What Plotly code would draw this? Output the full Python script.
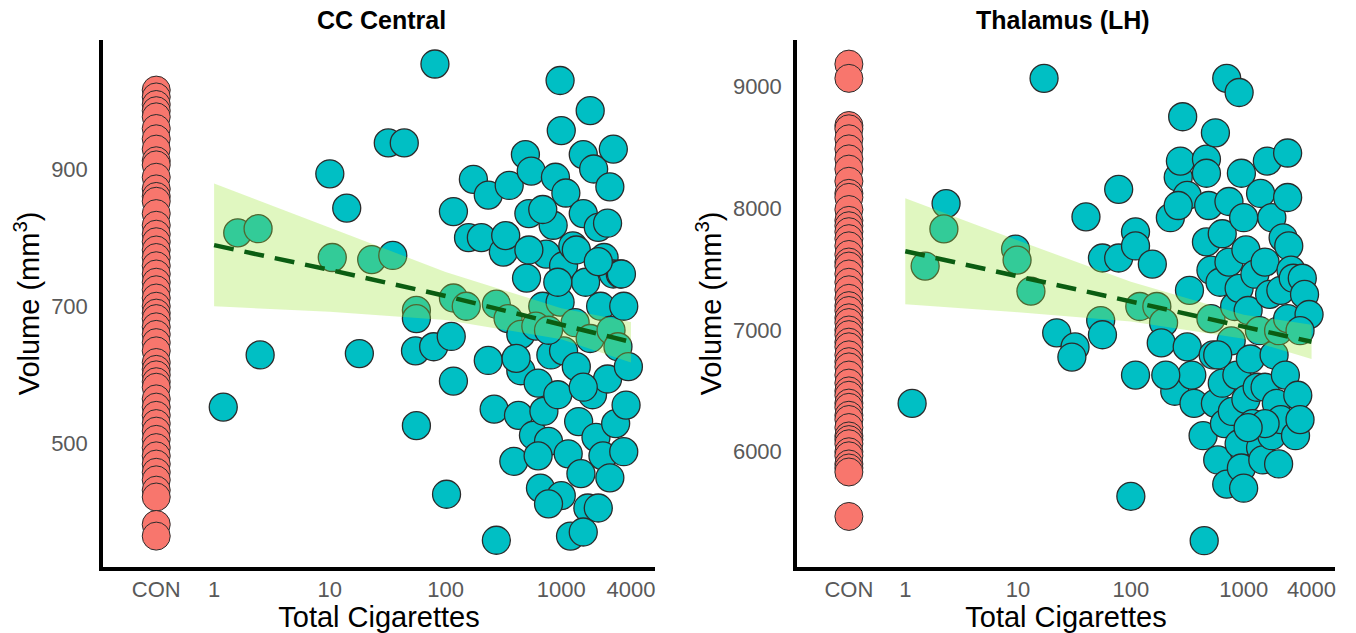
import plotly.graph_objects as go

# ---------------- data: CC Central ----------------
cc_con = [1015, 1005, 994, 985, 976, 959, 944, 929, 912, 906, 888, 871, 860, 853, 835, 818,
          805, 794, 782, 771, 759, 747, 735, 724, 712, 700, 690, 682, 670, 659, 647, 635, 618,
          608, 600, 590, 582, 565, 553, 541, 529, 518, 506, 494, 482, 470, 458, 447, 432, 422,
          382, 365]
cc_smk_x = [1.2, 1.6, 2.4, 2.5, 10, 14, 10.5, 18, 23, 32, 44, 35, 81, 56, 56, 55, 79, 112, 56,
            117, 102, 117, 117, 151, 174, 158, 234, 204, 234, 263, 275, 355, 316, 331, 275, 347,
            389, 427, 447, 447, 490, 501, 525, 550, 575, 631, 661, 692, 708, 741, 776, 813, 851,
            891, 933, 977, 977, 1000, 1000, 1047, 1047, 1096, 1148, 1202, 1259, 1318, 1349, 1413,
            1479, 1549, 1549, 1622, 1698, 1778, 1778, 1862, 1905, 1995, 2089, 2089, 2188, 2291,
            2344, 2512, 2630, 2630, 2692, 2818, 2818, 2951, 3090, 3236, 3467, 3802, 3467, 3631,
            3311, 2512, 631, 776, 1549, 525, 692, 1349, 2089, 933, 603, 1549, 407, 776]
cc_smk_y = [553, 807, 813, 629, 893, 843, 771, 631, 768, 938, 938, 774, 1053, 694, 682, 635, 641,
            656, 526, 591, 426, 712, 838, 700, 885, 800, 862, 800, 621, 550, 359, 876, 779, 803,
            703, 682, 474, 541, 606, 659, 921, 741, 835, 897, 512, 588, 435, 700, 547, 776, 503,
            629, 818, 888, 571, 706, 1029, 956, 424, 759, 635, 865, 485, 365, 788, 676, 612, 532,
            456, 921, 835, 735, 406, 985, 653, 571, 900, 509, 815, 406, 700, 482, 771, 594, 874,
            450, 665, 747, 929, 529, 641, 747, 700, 612, 488, 556, 747, 821, 482, 412, 371, 782,
            841, 782, 765, 735, 671, 582, 624, 665]
cc_fit_x = [1, 10, 100, 1000, 4000]
cc_fit_y = [789, 753, 715, 674, 648]
cc_fit_hi = [879, 815, 750, 697, 677]
cc_fit_lo = [700, 692, 680, 652, 618]

# ---------------- data: Thalamus (LH) ----------------
th_con = [9183, 9066, 8679, 8652, 8570, 8487, 8405, 8321, 8221, 8122, 8089, 7989, 7900, 7856,
          7807, 7750, 7691, 7620, 7558, 7525, 7460, 7392, 7330, 7260, 7200, 7160, 7100, 7061,
          7000, 6962, 6900, 6862, 6796, 6740, 6697, 6630, 6564, 6500, 6464, 6400, 6365, 6300,
          6265, 6199, 6130, 6100, 6066, 6000, 5967, 5900, 5867, 5834, 5469]
th_smk_x = [1.15, 1.5, 2.3, 2.2, 9.5, 9.8, 13, 17, 22, 32, 30, 40, 56, 78, 78, 54, 56, 110, 110,
            110, 120, 100, 155, 170, 195, 186, 245, 224, 263, 288, 275, 316, 331, 316, 347, 363,
            437, 447, 468, 468, 490, 468, 513, 513, 537, 562, 562, 589, 617, 646, 646, 676, 708,
            708, 741, 741, 776, 794, 832, 871, 912, 912, 912, 955, 955, 1000, 1047, 1047, 1096,
            1148, 1202, 1259, 1318, 1380, 1413, 1413, 1479, 1549, 1549, 1622, 1698, 1778, 1778,
            1862, 1950, 2042, 2042, 2138, 2138, 2239, 2344, 2455, 2455, 2455, 2512, 2630, 2754,
            2884, 3020, 3162, 3311, 3467, 3802, 3162, 263, 204, 589, 1000, 1549, 1096]
th_smk_y = [6397, 7525, 8038, 7830, 7664, 7574, 7319, 9066, 6977, 6861, 6778, 7929, 7591, 8155,
            7591, 7077, 6961, 7806, 7690, 6630, 7193, 5634, 7541, 7193, 7060, 6894, 6497, 7922,
            8254, 8751, 8387, 8105, 7326, 6861, 6630, 6397, 6132, 5270, 8403, 8287, 8022, 7723,
            7491, 7093, 6795, 8619, 6397, 5933, 7392, 7790, 6563, 6231, 5734, 9066, 7558, 8055,
            6911, 6331, 7193, 6630, 6066, 7342, 8950, 8287, 5867, 7922, 7657, 6430, 7160, 6762,
            6231, 7458, 6530, 6994, 8121, 6033, 5933, 7558, 6530, 8387, 7292, 6132, 7922, 6795,
            6397, 5900, 6994, 6264, 7326, 7757, 6630, 8453, 8088, 7093, 7690, 7491, 7425, 6132,
            6464, 6264, 7425, 7292, 7127, 6994, 8022, 6630, 6795, 5701, 6231, 6198]
th_fit_x = [1, 10, 100, 1000, 4000]
th_fit_y = [7647, 7440, 7233, 7027, 6903]
th_fit_hi = [8082, 7734, 7396, 7125, 7044]
th_fit_lo = [7212, 7146, 7070, 6929, 6762]

tick_vals_x = [1, 10, 100, 1000, 4000]
tick_text_x = ["1", "10", "100", "1000", "4000"]
cc_yticks = [500, 700, 900]
th_yticks = [6000, 7000, 8000, 9000]
titles = ["CC Central", "Thalamus (LH)"]

# ---------------- style ----------------
CON_X = 10 ** -0.5
RED = "#F8766D"
TEAL = "#00BFC4"
EDGE = "#2b2b2b"
BAND = "rgba(160,230,60,0.32)"
LINE = "#0b5d12"
MSIZE = 28

fig = go.Figure()


def add_panel(con, sx, sy, fx, fy, fhi, flo, xa, ya):
    fig.add_trace(go.Scatter(x=sx, y=sy, mode="markers", xaxis=xa, yaxis=ya,
                             marker=dict(size=MSIZE, color=TEAL,
                                         line=dict(color=EDGE, width=1.3)),
                             showlegend=False))
    fig.add_trace(go.Scatter(x=[CON_X] * len(con), y=con, mode="markers", xaxis=xa, yaxis=ya,
                             marker=dict(size=MSIZE, color=RED,
                                         line=dict(color=EDGE, width=1.0)),
                             showlegend=False))
    fig.add_trace(go.Scatter(x=fx + fx[::-1], y=fhi + flo[::-1], mode="lines", fill="toself",
                             fillcolor=BAND, line=dict(width=0), xaxis=xa, yaxis=ya,
                             showlegend=False, hoverinfo="skip"))
    fig.add_trace(go.Scatter(x=fx, y=fy, mode="lines", xaxis=xa, yaxis=ya,
                             line=dict(color=LINE, width=4.5, dash="20px,11px"),
                             showlegend=False))


add_panel(cc_con, cc_smk_x, cc_smk_y, cc_fit_x, cc_fit_y, cc_fit_hi, cc_fit_lo, "x", "y")
add_panel(th_con, th_smk_x, th_smk_y, th_fit_x, th_fit_y, th_fit_hi, th_fit_lo, "x2", "y2")

FONT = "Liberation Sans, Arial, sans-serif"
tickfont = dict(family=FONT, size=22, color="#595959")
titlefont = dict(family=FONT, size=29, color="#000000")

xcommon = dict(type="log", range=[-0.96, 3.81],
               tickvals=[CON_X] + tick_vals_x, ticktext=["CON"] + tick_text_x,
               showline=True, linecolor="black", linewidth=3.5, ticks="",
               showgrid=False, zeroline=False, tickfont=tickfont,
               ticklabelstandoff=0, automargin=False,
               title=dict(text="Total Cigarettes", font=titlefont, standoff=0))
ycommon = dict(showline=True, linecolor="black", linewidth=3.5, ticks="",
               showgrid=False, zeroline=False, tickfont=tickfont,
               ticklabelstandoff=7, automargin=False)

fig.update_layout(
    width=1356, height=633,
    margin=dict(l=0, r=0, t=0, b=0),
    paper_bgcolor="white", plot_bgcolor="white",
    xaxis=dict(domain=[103 / 1356, 655 / 1356], anchor="y", **xcommon),
    xaxis2=dict(domain=[797 / 1356, 1335 / 1356], anchor="y2", **xcommon),
    yaxis=dict(domain=[1 - 567 / 633, 1 - 40 / 633], anchor="x", range=[320, 1088],
               tickvals=cc_yticks, **ycommon,
               title=dict(text="Volume (mm<sup>3</sup>)", font=titlefont, standoff=4)),
    yaxis2=dict(domain=[1 - 567 / 633, 1 - 40 / 633], anchor="x2", range=[5054, 9381],
                tickvals=th_yticks, **ycommon,
                title=dict(text="Volume (mm<sup>3</sup>)", font=titlefont, standoff=4)),
    annotations=[
        dict(text="<b>%s</b>" % titles[0], x=381 / 1356, y=1 - 20 / 633, xref="paper",
             yref="paper", showarrow=False, font=dict(family=FONT, size=25, color="black"),
             xanchor="center", yanchor="middle"),
        dict(text="<b>%s</b>" % titles[1], x=1063 / 1356, y=1 - 20 / 633, xref="paper",
             yref="paper", showarrow=False, font=dict(family=FONT, size=25, color="black"),
             xanchor="center", yanchor="middle"),
    ],
)

fig.write_html("out.html")
